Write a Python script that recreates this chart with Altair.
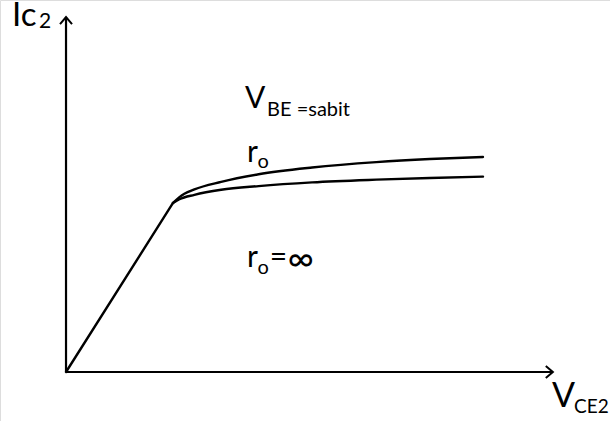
import altair as alt
import pandas as pd

# Output characteristic of Q2: collector current versus collector-emitter voltage
# (arbitrary units; knee of the curve at VCE = 1, Ic = 1)

# straight rise from the origin up to the knee
rise_v = [0.0, 1.0]
rise_i = [0.0, 1.0]

# finite output resistance r_o: current keeps rising after the knee
ro_v = [1.000, 1.060, 1.200, 1.450, 1.800, 2.300, 2.900, 3.400, 3.897]
ro_i = [1.000, 1.035, 1.080, 1.125, 1.170, 1.210, 1.242, 1.260, 1.272]

# r_o = infinity curve
inf_v = [1.000, 1.060, 1.200, 1.450, 1.800, 2.300, 2.900, 3.400, 3.897]
inf_i = [1.000, 1.022, 1.048, 1.078, 1.100, 1.122, 1.138, 1.148, 1.156]

# axis extents (arrow tips)
x_axis_end = 4.55
y_axis_end = 2.10

# text labels: text, x, y, font size
label_text = ["Ic", "2", "V", "BE =sabit", "r", "o", "r", "o", "=", "∞", "V", "CE2"]
label_x = [-0.505, -0.252, 1.673, 1.879, 1.692, 1.790, 1.692, 1.790, 1.905, 2.070, 4.542, 4.748]
label_y = [2.047, 2.035, 1.562, 1.515, 1.243, 1.207, 0.621, 0.580, 0.621, 0.600, -0.207, -0.243]
label_size = [33, 21, 30, 20, 30, 20, 30, 20, 30, 36, 34, 19]

X_DOMAIN = [-0.617, 5.084]
Y_DOMAIN = [-0.290, 2.201]
FONT = "Lato"

xs = alt.Scale(domain=X_DOMAIN, nice=False, zero=False)
ys = alt.Scale(domain=Y_DOMAIN, nice=False, zero=False)


def xy():
    return dict(
        x=alt.X("v:Q", scale=xs, axis=None),
        y=alt.Y("i:Q", scale=ys, axis=None),
    )


curves = pd.concat([
    pd.DataFrame({"v": rise_v, "i": rise_i, "s": "rise"}),
    pd.DataFrame({"v": ro_v, "i": ro_i, "s": "ro"}),
    pd.DataFrame({"v": inf_v, "i": inf_i, "s": "inf"}),
])

curve_layer = alt.Chart(curves).mark_line(
    color="black", strokeWidth=2.4, interpolate="monotone", strokeCap="round"
).encode(detail="s:N", **xy())

axes = pd.DataFrame({
    "v": [0, x_axis_end, 0, 0],
    "i": [0, 0, 0, y_axis_end],
    "a": ["x", "x", "y", "y"],
})
axis_layer = alt.Chart(axes).mark_line(color="black", strokeWidth=2.2).encode(
    detail="a:N", **xy()
)

# open arrow heads at the axis ends
head = "M -0.85 1 L 0 0 L 0.85 1"
tips = pd.DataFrame({"v": [x_axis_end, 0], "i": [0, y_axis_end], "ang": [90, 0]})
tip_layer = alt.Chart(tips).mark_point(
    shape=head, filled=False, color="black", strokeWidth=2.0, size=200, opacity=1
).encode(angle=alt.Angle("ang:Q", scale=None), **xy())

labels = pd.DataFrame({"t": label_text, "v": label_x, "i": label_y, "fs": label_size})
text_layer = alt.Chart(labels).mark_text(
    align="left", baseline="alphabetic", font=FONT, color="black"
).encode(
    text="t:N",
    size=alt.Size("fs:Q", scale=None),
    **xy(),
)

chart = alt.layer(axis_layer, curve_layer, tip_layer, text_layer).properties(
    width=610, height=421, padding=0, autosize=alt.AutoSizeParams(type="none")
).configure_view(stroke=None).configure(background="white")

chart.save("out.html", embed_options={"renderer": "svg", "actions": False})
